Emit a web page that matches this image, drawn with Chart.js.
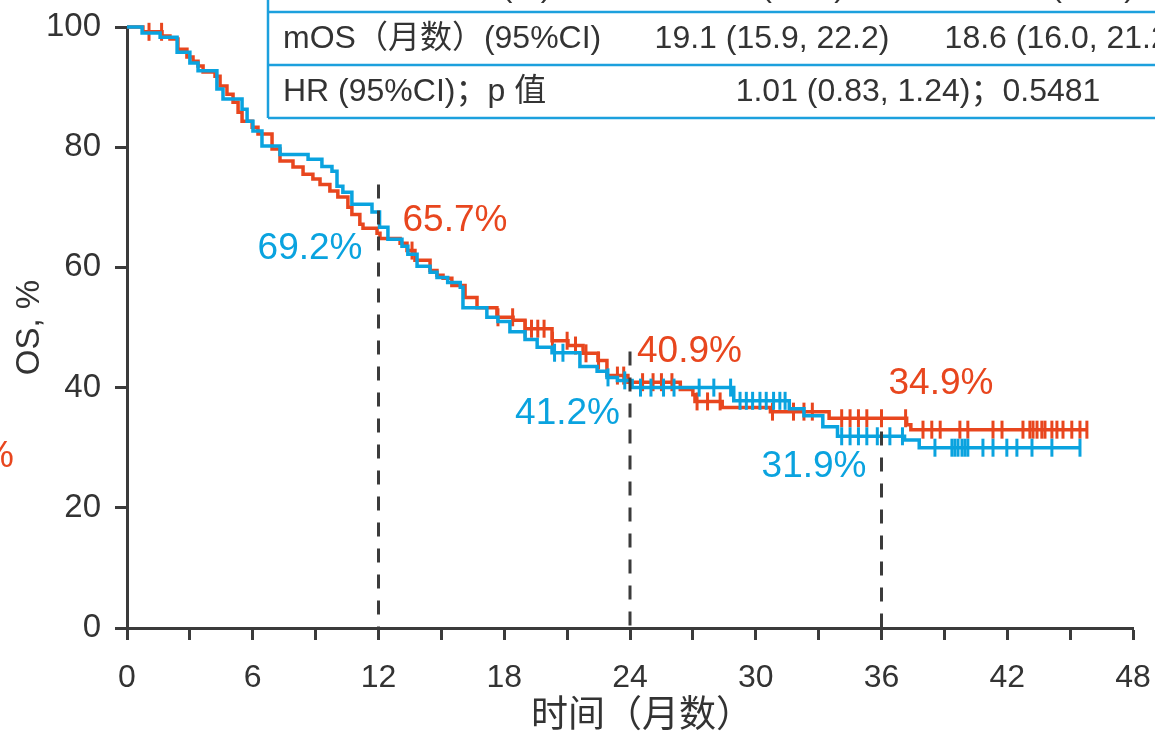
<!DOCTYPE html>
<html>
<head>
<meta charset="utf-8">
<script src="https://cdn.jsdelivr.net/npm/chart.js@4.4.1/dist/chart.umd.min.js"></script>
<style>
  html, body { margin: 0; padding: 0; background: #ffffff; }
  #wrap { width: 1155px; height: 731px; position: relative; overflow: hidden; }
</style>
</head>
<body>
<div id="wrap"><canvas id="km" width="1155" height="731"></canvas></div>
<script>
// Kaplan-Meier OS curves: event times (months) and survival (%) after each step
const redTimes = [0, 0.76, 1.67, 2.05, 2.43, 2.86, 3.15, 3.39, 3.63, 4.2, 4.44, 4.77, 5.06, 5.3, 5.49, 5.97, 6.25, 6.92, 7.3, 7.92, 8.4, 8.87, 9.21, 9.68, 10.06, 10.54, 10.73, 11.11, 11.26, 11.93, 12.07, 13.03, 13.36, 13.74, 14.46, 14.79, 15.08, 15.5, 16.13, 16.7, 17.65, 18.42, 18.99, 20.28, 21.04, 21.76, 22.47, 22.9, 23.9, 26.4, 27.0, 27.1, 28.4, 30.7, 33.5, 37.2, 37.4, 45.8];
const redSurv = [100, 99.2, 98.5, 98.0, 96.3, 95.0, 94.3, 93.5, 92.5, 91.8, 90.2, 88.8, 87.5, 85.8, 84.3, 83.3, 82.2, 79.7, 77.7, 76.7, 75.5, 74.7, 73.8, 72.7, 71.7, 70.0, 68.8, 67.2, 66.5, 65.7, 64.8, 64.0, 62.8, 61.2, 59.5, 58.7, 58.2, 57.0, 55.0, 53.3, 51.7, 51.2, 49.8, 47.8, 47.0, 45.7, 44.5, 42.0, 40.9, 39.7, 38.8, 37.7, 36.7, 36.0, 34.9, 33.8, 33.0, 33.0];
const redCensor = [1.05, 1.65, 13.6, 17.7, 18.4, 19.0, 19.3, 19.6, 19.9, 20.3, 21.0, 21.4, 21.9, 22.5, 23.4, 23.7, 24.6, 25.1, 25.5, 26.0, 27.2, 27.7, 28.3, 30.8, 31.8, 32.3, 32.7, 34.1, 34.5, 34.9, 35.3, 36.0, 37.15, 37.98, 38.4, 38.8, 39.74, 40.12, 41.32, 41.75, 42.75, 43.08, 43.23, 43.42, 43.65, 43.8, 44.13, 44.37, 44.66, 45.08, 45.47, 45.8];

const blueTimes = [0, 0.72, 1.58, 2.39, 3.0, 3.39, 4.29, 4.58, 5.49, 5.73, 6.01, 6.44, 7.3, 8.64, 9.3, 9.78, 10.02, 10.3, 10.73, 11.69, 12.05, 12.45, 13.12, 13.4, 13.84, 14.46, 14.79, 15.3, 15.9, 16.03, 17.17, 17.7, 18.27, 18.99, 19.57, 20.28, 21.61, 22.43, 22.9, 23.4, 24.1, 28.95, 31.6, 32.3, 33.2, 33.9, 37.1, 37.8, 45.47];
const blueSurv = [100, 99.0, 98.3, 95.8, 94.0, 92.7, 89.7, 88.0, 86.3, 84.3, 82.7, 80.2, 78.8, 78.0, 76.8, 76.0, 73.5, 72.5, 70.5, 69.2, 66.7, 64.7, 63.5, 62.2, 60.2, 59.2, 58.3, 57.5, 56.7, 53.3, 51.7, 51.0, 49.3, 48.0, 46.7, 45.8, 43.5, 42.7, 41.7, 41.2, 40.0, 37.8, 36.5, 35.3, 33.5, 31.9, 31.3, 30.0, 30.0];
const blueCensor = [20.4, 20.8, 22.95, 23.75, 24.5, 25.0, 25.6, 26.1, 27.3, 28.0, 28.8, 29.25, 29.55, 29.85, 30.2, 30.5, 30.85, 31.15, 31.4, 34.1, 34.5, 34.9, 35.3, 35.8, 36.4, 37.0, 38.55, 39.36, 39.5, 39.65, 39.84, 39.98, 40.12, 40.84, 41.32, 41.98, 42.46, 43.18, 44.13, 45.47];

// Landmark survival rates and dashed guide lines
const landmarkMonths = [12, 24, 36];
const redLandmark = [65.7, 40.9, 34.9];
const blueLandmark = [69.2, 41.2, 31.9];
const guideTop = [73.8, 46.0, 32.7];

// Summary table text
const tableRow1 = ['死亡事件数，n (%)', '101 (56.1)', '103 (57.2)'];
const tableRow2 = ['mOS（月数）(95%CI)', '19.1 (15.9, 22.2)', '18.6 (16.0, 21.2)'];
const tableRow3 = ['HR (95%CI)；p 值', '1.01 (0.83, 1.24)；0.5481'];

const xTitle = '时间（月数）';
const yTitle = 'OS, %';

const RED = '#E8461E';
const BLUE = '#0AA3DF';
const INK = '#333333';
const AXIS = '#3b3b3b';
const LATIN = '"Liberation Sans", Arial, "Noto Sans CJK SC", sans-serif';
const CJK = '"Noto Sans CJK SC", "Liberation Sans", sans-serif';

function levelAt(times, surv, t) {
  let v = surv[0];
  for (let i = 0; i < times.length; i++) if (times[i] <= t) v = surv[i];
  return v;
}
const toPts = (ts, ss) => ts.map((t, i) => ({ x: t, y: ss[i] }));
const censorPts = (cs, ts, ss) => cs.map(t => ({ x: t, y: levelAt(ts, ss, t) }));

const guideSets = landmarkMonths.map((m, i) => ({
  data: [{ x: m, y: guideTop[i] }, { x: m, y: 0 }],
  borderColor: AXIS, borderWidth: 3, borderDash: [14, 12],
  pointRadius: 0, order: 0, clip: false
}));

const curve = (ts, ss, color, order) => ({
  data: toPts(ts, ss), stepped: true, borderColor: color, borderWidth: 3.5,
  pointRadius: 0, fill: false, order, clip: false
});
const ticks = (cs, ts, ss, color, order) => ({
  data: censorPts(cs, ts, ss), showLine: false, pointStyle: 'line', rotation: 90,
  pointRadius: 9, borderColor: color, pointBorderWidth: 3, borderWidth: 3, order, clip: false
});

const overlay = {
  id: 'overlay',
  afterDraw(chart) {
    const { ctx, scales: { x, y } } = chart;
    ctx.save();
    // landmark percentages
    ctx.font = '37px ' + LATIN;
    ctx.textBaseline = 'middle';
    const offs = [
      { rdx: 24, rdy: -12, bdx: -16, bdy: 37 },
      { rdx: 7, rdy: -30, bdx: -10, bdy: 33 },
      { rdx: 7, rdy: -34, bdx: -15, bdy: 31 }
    ];
    landmarkMonths.forEach((m, i) => {
      const px = x.getPixelForValue(m);
      ctx.fillStyle = RED; ctx.textAlign = 'left';
      ctx.fillText(redLandmark[i].toFixed(1) + '%', px + offs[i].rdx, y.getPixelForValue(redLandmark[i]) + offs[i].rdy);
      ctx.fillStyle = BLUE; ctx.textAlign = 'right';
      ctx.fillText(blueLandmark[i].toFixed(1) + '%', px + offs[i].bdx, y.getPixelForValue(blueLandmark[i]) + offs[i].bdy);
    });
    // clipped label fragment at the left edge
    ctx.fillStyle = RED; ctx.textAlign = 'right';
    ctx.fillText('%', 14, 457);

    // x-axis title
    ctx.fillStyle = INK; ctx.textAlign = 'center';
    ctx.font = '37px ' + CJK;
    ctx.fillText(xTitle, 642, 713);

    // summary table
    const L = 268, R = 1170;
    ctx.fillStyle = '#ffffff';
    ctx.fillRect(L, -5, R - L, 123);
    ctx.strokeStyle = '#1CA0DD'; ctx.lineWidth = 2.5;
    ctx.beginPath();
    [12, 65, 118].forEach(v => { ctx.moveTo(L, v); ctx.lineTo(R, v); });
    ctx.moveTo(L, -5); ctx.lineTo(L, 118);
    ctx.stroke();
    ctx.fillStyle = INK;
    ctx.font = '32px ' + LATIN;
    const rows = [[tableRow1, -13], [tableRow2, 39], [tableRow3, 92]];
    rows.forEach(([row, cy]) => {
      ctx.textAlign = 'left';
      ctx.fillText(row[0], 283, cy);
      ctx.textAlign = 'center';
      if (row.length === 3) {
        ctx.fillText(row[1], 772, cy);
        ctx.fillText(row[2], 1062, cy);
      } else {
        ctx.fillText(row[1], 918, cy);
      }
    });
    ctx.restore();
  }
};

const axisCommon = {
  grid: { drawOnChartArea: false, drawTicks: true, tickLength: 12, tickWidth: 3, tickColor: AXIS },
  border: { display: true, color: AXIS, width: 3 }
};

new Chart(document.getElementById('km'), {
  type: 'line',
  data: {
    datasets: [
      ...guideSets,
      curve(blueTimes, blueSurv, BLUE, 1),
      ticks(blueCensor, blueTimes, blueSurv, BLUE, 1),
      curve(redTimes, redSurv, RED, 2),
      ticks(redCensor, redTimes, redSurv, RED, 2)
    ]
  },
  options: {
    responsive: false,
    devicePixelRatio: 1,
    animation: false,
    layout: { padding: { top: 27, right: 22, left: 0, bottom: 0 } },
    plugins: { legend: { display: false }, tooltip: { enabled: false } },
    scales: {
      x: {
        type: 'linear', min: 0, max: 48,
        ...axisCommon,
        ticks: {
          stepSize: 3, autoSkip: false, maxRotation: 0, padding: 19, color: INK,
          font: { family: LATIN, size: 32 },
          callback: v => (v % 6 === 0 ? String(v) : '')
        },
        title: { display: false },
        afterFit: s => { s.height = 103; s.paddingLeft = 0; s.paddingRight = 0; }
      },
      y: {
        type: 'linear', min: 0, max: 100,
        ...axisCommon,
        ticks: { stepSize: 20, padding: 14, color: INK, font: { family: LATIN, size: 33 } },
        title: { display: true, text: yTitle, color: INK, font: { family: LATIN, size: 33, lineHeight: 1.2 }, padding: { top: 10, bottom: 0 } },
        afterFit: s => { s.width = 127; s.paddingTop = 0; s.paddingBottom = 0; }
      }
    }
  },
  plugins: [overlay]
});
</script>
</body>
</html>
